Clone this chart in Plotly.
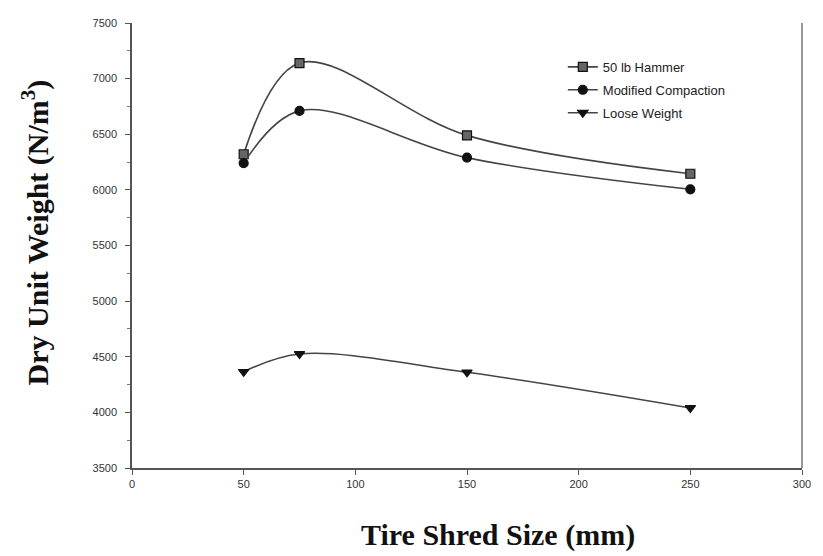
import plotly.graph_objects as go

# Tire shred size (mm)
shred_size = [50, 75, 150, 250]

# Dry unit weight (N/m^3) for each test method
hammer_50lb = [6320, 7140, 6490, 6145]
modified_compaction = [6240, 6710, 6290, 6005]
loose_weight = [4365, 4525, 4360, 4040]

series = [
    ("50 lb Hammer", hammer_50lb, "square", "#666666"),
    ("Modified Compaction", modified_compaction, "circle", "#111111"),
    ("Loose Weight", loose_weight, "triangle-down", "#111111"),
]

fig = go.Figure()
for name, vals, symbol, fill in series:
    fig.add_trace(go.Scatter(
        x=shred_size, y=vals, name=name, legendgroup=name,
        mode="lines+markers",
        line=dict(color="#444444", width=1.6, shape="spline", smoothing=1.0),
        marker=dict(symbol=symbol, size=9, color=fill,
                    line=dict(color="#111111", width=1.2)),
    ))

fig.update_layout(
    width=823, height=556,
    margin=dict(l=132, r=18, t=23, b=88),
    paper_bgcolor="white", plot_bgcolor="white",
    font=dict(family="Liberation Sans, Arial", size=11, color="#333333"),
    showlegend=True,
    legend=dict(
        x=0.643, y=0.935, xanchor="left", yanchor="top",
        bgcolor="rgba(0,0,0,0)",
        font=dict(family="Liberation Sans, Arial", size=13, color="#222222"),
        tracegroupgap=3,
    ),
)

fig.update_xaxes(
    range=[0, 300], tickvals=[0, 50, 100, 150, 200, 250, 300],
    showline=True, linecolor="#555555", linewidth=1.5,
    ticks="outside", ticklen=5, tickcolor="#555555",
    showgrid=False, zeroline=False,
    tickfont=dict(size=11, color="#333333"),
)
fig.update_yaxes(
    range=[3500, 7500], tickvals=[3500, 4000, 4500, 5000, 5500, 6000, 6500, 7000, 7500],
    showline=True, linecolor="#555555", linewidth=1.5,
    ticks="outside", ticklen=5, tickcolor="#555555",
    minor=dict(ticks="outside", ticklen=3, dtick=250, tickcolor="#777777"),
    showgrid=False, zeroline=False,
    ticklabelstandoff=6,
    tickfont=dict(size=11, color="#333333"),
)

title_font = dict(family="Liberation Serif, Times New Roman", size=30, color="#111111")

# axis titles
fig.add_annotation(
    text="<b>Tire Shred Size (mm)</b>", xref="paper", yref="paper",
    x=(500 - 132) / 673, y=-(535 - 468) / 445, xanchor="center", yanchor="middle",
    showarrow=False, font=title_font,
)
fig.add_annotation(
    text="<b>Dry Unit Weight (N/m<sup>3</sup>)</b>", xref="paper", yref="paper",
    x=-(132 - 36) / 673, y=(468 - 232) / 445, xanchor="center", yanchor="middle",
    textangle=-90, showarrow=False, font=title_font,
)

# right-hand frame edge
fig.add_shape(type="line", xref="paper", yref="paper", x0=1, x1=1, y0=0, y1=1,
              line=dict(color="#777777", width=1.5))

fig.write_html("out.html")
